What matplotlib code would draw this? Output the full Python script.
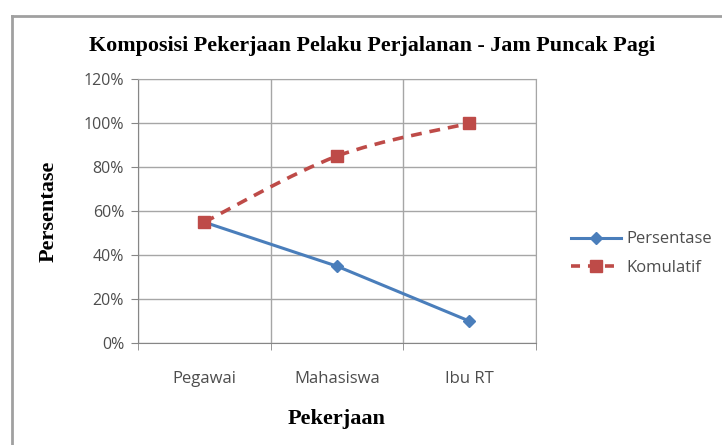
import matplotlib.pyplot as plt
from matplotlib.path import Path
from matplotlib.patches import PathPatch
from matplotlib.lines import Line2D
from matplotlib.ticker import FuncFormatter, FixedLocator

pekerjaan = ["Pegawai", "Mahasiswa", "Ibu RT"]
persentase = [0.55, 0.35, 0.10]
komulatif = [0.55, 0.85, 1.00]

blue = "#4A7EBB"
red = "#BE4B48"
grid_c = "#A6A6A6"
txt_c = "#4D4D4D"

fig = plt.figure(figsize=(7.22, 4.45), dpi=100)
ax = fig.add_axes([0.191, 0.229, 0.551, 0.593])

x = list(range(len(pekerjaan)))

ax.plot(x, persentase, color=blue, lw=2.2, marker="D", ms=6.5,
        label="Persentase", zorder=3)

# smoothed dashed line like Excel's "smoothed line"
verts = [(x[0], komulatif[0])]
codes = [Path.MOVETO]
for i in range(len(x) - 1):
    p0 = (x[max(i - 1, 0)], komulatif[max(i - 1, 0)])
    p1 = (x[i], komulatif[i])
    p2 = (x[i + 1], komulatif[i + 1])
    p3 = (x[min(i + 2, len(x) - 1)], komulatif[min(i + 2, len(x) - 1)])
    c1 = (p1[0] + (p2[0] - p0[0]) / 6, p1[1] + (p2[1] - p0[1]) / 6)
    c2 = (p2[0] - (p3[0] - p1[0]) / 6, p2[1] - (p3[1] - p1[1]) / 6)
    verts += [c1, c2, p2]
    codes += [Path.CURVE4] * 3
ax.add_patch(PathPatch(Path(verts, codes), fill=False, edgecolor=red,
                       lw=2.6, ls=(0, (3, 2.2)), zorder=3))
ax.plot(x, komulatif, color=red, lw=0, marker="s", ms=8.5, zorder=4)
kom_handle = Line2D([], [], color=red, lw=2.6, ls=(0, (2.5, 2.2)),
                    marker="s", ms=8, label="Komulatif")

ax.set_xlim(-0.5, len(x) - 0.5)
ax.set_ylim(0, 1.2)
ax.set_yticks([0, 0.2, 0.4, 0.6, 0.8, 1.0, 1.2])
ax.yaxis.set_major_formatter(FuncFormatter(lambda v, p: f"{v*100:.0f}%"))
ax.set_xticks(x)
ax.set_xticklabels(pekerjaan)
ax.xaxis.set_minor_locator(FixedLocator([-0.5, 0.5, 1.5, 2.5]))

ax.grid(axis="y", which="major", color=grid_c, lw=1)
ax.grid(axis="x", which="minor", color=grid_c, lw=1)
ax.set_axisbelow(True)
for s in ["top", "right"]:
    ax.spines[s].set_color(grid_c)
for s in ["left", "bottom"]:
    ax.spines[s].set_color("#868686")

ax.tick_params(axis="x", which="major", length=0, pad=20,
               labelsize=12, labelcolor=txt_c)
ax.tick_params(axis="x", which="minor", length=5, color="#868686")
ax.tick_params(axis="y", length=5, color="#868686", pad=5,
               labelsize=11.5, labelcolor=txt_c)
for lab in ax.get_xticklabels() + ax.get_yticklabels():
    lab.set_family("Open Sans")

ax.set_xlabel("Pekerjaan", family="Liberation Serif", fontweight="bold",
              fontsize=16, labelpad=16)
ax.set_ylabel("Persentase", family="Liberation Serif", fontweight="bold",
              fontsize=16, labelpad=18)
fig.text(0.515, 0.896, "Komposisi Pekerjaan Pelaku Perjalanan - Jam Puncak Pagi",
         ha="center", va="center", family="Liberation Serif",
         fontweight="bold", fontsize=15.8)

h1 = ax.get_lines()[0]
leg = fig.legend([h1, kom_handle], ["Persentase", "Komulatif"],
                 loc="center left", bbox_to_anchor=(0.77, 0.43),
                 frameon=False, handlelength=3.0, handletextpad=0.3,
                 labelspacing=0.75,
                 prop={"family": "Open Sans", "size": 12})
for t in leg.get_texts():
    t.set_color(txt_c)

# chart border (left and top edges visible)
fig.add_artist(Line2D([0.016, 0.016], [0, 0.964], color="#A0A0A0", lw=2,
                      transform=fig.transFigure))
fig.add_artist(Line2D([0.016, 1], [0.964, 0.964], color="#A0A0A0", lw=2,
                      transform=fig.transFigure))

fig.savefig("out.png", dpi=100)
